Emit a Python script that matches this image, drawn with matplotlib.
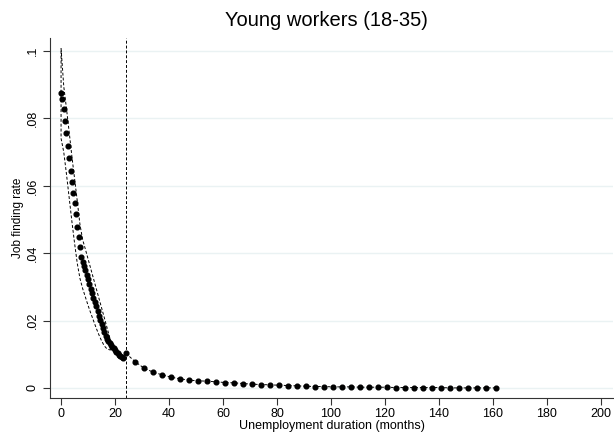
import matplotlib
matplotlib.use("Agg")
import matplotlib.pyplot as plt

plt.rcParams['font.family'] = ['Liberation Sans', 'DejaVu Sans']

# half-monthly estimates over the first two years
months_early = [0.0, 0.5, 1.0, 1.5, 2.0, 2.5, 3.0, 3.5, 4.0, 4.5, 5.0, 5.5,
                6.0, 6.5, 7.0, 7.5, 8.0, 8.5, 9.0, 9.5, 10.0, 10.5, 11.0, 11.5,
                12.0, 12.5, 13.0, 13.5, 14.0, 14.5, 15.0, 15.5, 16.0, 16.5,
                17.0, 17.5, 18.0, 18.5, 19.0, 19.5, 20.0, 20.5, 21.0, 21.5,
                22.0, 22.5, 23.0]
rate_early = [0.0876, 0.0858, 0.0828, 0.0792, 0.0756, 0.0718, 0.0682, 0.0645,
              0.0610, 0.0578, 0.0548, 0.0515, 0.0479, 0.0447, 0.0417, 0.0390,
              0.0375, 0.0362, 0.0349, 0.0336, 0.0322, 0.0309, 0.0295, 0.0282,
              0.0268, 0.0255, 0.0242, 0.0228, 0.0214, 0.0202, 0.0190, 0.0178,
              0.0166, 0.0155, 0.0146, 0.0139, 0.0133, 0.0127, 0.0122, 0.0117,
              0.0112, 0.0107, 0.0103, 0.0099, 0.0095, 0.0091, 0.0088]

# confidence band
ci_months = [0, 1, 2, 3, 4, 5, 6, 7, 8, 9, 10, 11, 12, 13, 14, 15, 16, 17, 18, 18.5]
ci_upper = [0.1008, 0.0895, 0.0830, 0.0760, 0.0688, 0.0622, 0.0555, 0.0485,
            0.0440, 0.0412, 0.0383, 0.0354, 0.0325, 0.0296, 0.0267, 0.0238,
            0.0209, 0.0180, 0.0150, 0.0126]
ci_lower = [0.0741, 0.0700, 0.0635, 0.0565, 0.0495, 0.0430, 0.0370, 0.0325,
            0.0295, 0.0270, 0.0245, 0.0222, 0.0200, 0.0178, 0.0158, 0.0140,
            0.0125, 0.0116, 0.0113, 0.0113]

# long-duration estimates
months_late = [24.0, 27.4, 30.7, 34.0, 37.4, 40.7, 44.0, 47.4, 50.7, 54.0,
               57.4, 60.7, 64.0, 67.4, 70.7, 74.0, 77.4, 80.7, 84.0, 87.4,
               90.7, 94.0, 97.4, 100.7, 104.0, 107.4, 110.7, 114.0, 117.4,
               120.7, 124.0, 127.4, 130.7, 134.0, 137.4, 140.7, 144.0, 147.4,
               150.7, 154.0, 157.4, 161.0]
rate_late = [0.0103, 0.0078, 0.0059, 0.0047, 0.0039, 0.0032, 0.0027, 0.0023,
             0.0021, 0.0020, 0.0018, 0.0016, 0.0015, 0.0013, 0.0011, 0.0010,
             0.0009, 0.0008, 0.0007, 0.0006, 0.0005, 0.0004, 0.0004, 0.0003,
             0.0003, 0.0003, 0.0002, 0.0002, 0.0002, 0.0002, 0.0001, 0.0001,
             0.0001, 0.0001, 0.0001, 0.0001, 0.0000, 0.0000, 0.0000, 0.0000,
             0.0000, 0.0000]

cutoff = 24
yticks = [0, 0.02, 0.04, 0.06, 0.08, 0.1]
ylabels = ['0', '.02', '.04', '.06', '.08', '.1']
xticks = [0, 20, 40, 60, 80, 100, 120, 140, 160, 180, 200]

fig = plt.figure(figsize=(6.14, 4.41), dpi=100)
ax = fig.add_axes([50/614, 43/441, 563/614, 360/441])

for y in yticks:
    ax.axhline(y, color='#eaf2f3', lw=1.0, zorder=0)

# band outline, closed at both ends
poly_x = ci_months + ci_months[::-1] + [ci_months[0]]
poly_y = ci_upper + ci_lower[::-1] + [ci_upper[0]]
ax.plot(poly_x, poly_y, color='black', lw=0.7, ls=(0, (3, 2)), zorder=2)

ax.plot(months_early, rate_early, 'o', color='black', ms=3.4, zorder=3)
ax.plot(months_late, rate_late, color='black', lw=0.7, ls=(0, (3, 2)), zorder=2)
ax.plot(months_late, rate_late, 'o', color='black', ms=3.4, zorder=3)

ax.axvline(cutoff, color='black', lw=0.7, ls=(0, (3, 2)), zorder=1)

ax.set_xlim(-4.1, 204.5)
ax.set_ylim(-0.003, 0.1039)
ax.set_xticks(xticks)
ax.set_yticks(yticks)
ax.set_yticklabels(ylabels, rotation=90, va='center')
ax.tick_params(axis='both', labelsize=9, length=5, width=0.8, color='#333333')
ax.tick_params(axis='y', pad=3)
ax.tick_params(axis='x', pad=2)

for side in ['top', 'right']:
    ax.spines[side].set_visible(False)
for side in ['left', 'bottom']:
    ax.spines[side].set_linewidth(0.8)
    ax.spines[side].set_color('#333333')

ax.set_xlabel('Unemployment duration (months)', fontsize=9, labelpad=0)
ax.set_ylabel('Job finding rate', fontsize=8.5, labelpad=2)
fig.text(326/614, 1 - 20/441, 'Young workers (18-35)', ha='center', va='center', fontsize=14.5)

fig.savefig('out.png', dpi=100, facecolor='white')
